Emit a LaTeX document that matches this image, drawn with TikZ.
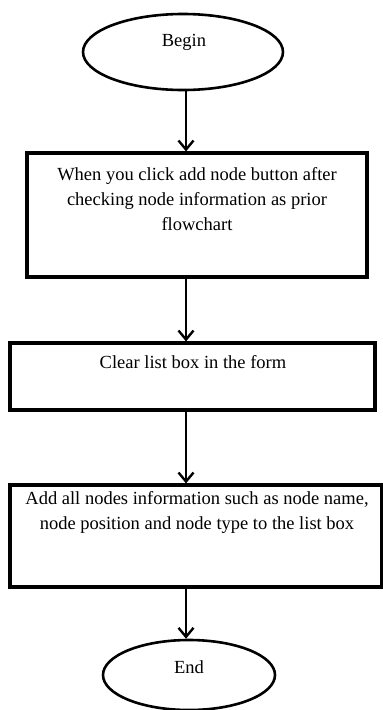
\documentclass[tikz,border=0pt]{standalone}
\usepackage{fontspec}
\setmainfont{Liberation Serif}
\usetikzlibrary{shapes.geometric,arrows.meta}
\begin{document}
\begin{tikzpicture}[x=1pt,y=-1pt,
  term/.style={ellipse,draw,line width=2.6pt,inner sep=0pt},
  procbox/.style={rectangle,draw,line width=3.2pt,inner sep=0pt},
  txt/.style={font=\fontsize{18.5}{25}\selectfont,align=center,inner sep=0pt,anchor=base},
  arr/.style={line width=2.6pt,-{Straight Barb[length=9pt,width=15pt,line width=2.4pt]}}]
\useasboundingbox (0,0) rectangle (383,710);
\coordinate (ax) at (186,0);
\node[term,minimum width=200pt,minimum height=76pt] (begin) at (183,52) {};
\node[txt] (tbegin) at (184,46.5) {Begin};
\node[procbox,minimum width=340pt,minimum height=124pt] (b1) at (197,215) {};
\node[txt] (t1) at (197,230) {When you click add node button after\\checking node information as prior\\flowchart};
\node[procbox,minimum width=365pt,minimum height=67pt] (b2) at (192.5,376.5) {};
\node[txt] (t2) at (193,368) {Clear list box in the form};
\node[procbox,minimum width=372pt,minimum height=102pt] (b3) at (196,536) {};
\node[txt] (t3) at (197,529) {Add all nodes information such as node name,\\node position and node type to the list box};
\node[term,minimum width=172pt,minimum height=70pt] (end) at (189,675) {};
\node[txt] (tend) at (189,673) {End};
\draw[arr] (begin.south -| ax) -- (b1.north -| ax);
\draw[arr] (b1.south -| ax) -- (b2.north -| ax);
\draw[arr] (b2.south -| ax) -- (b3.north -| ax);
\draw[arr] (b3.south -| ax) -- (end.north -| ax);
\end{tikzpicture}
\end{document}
